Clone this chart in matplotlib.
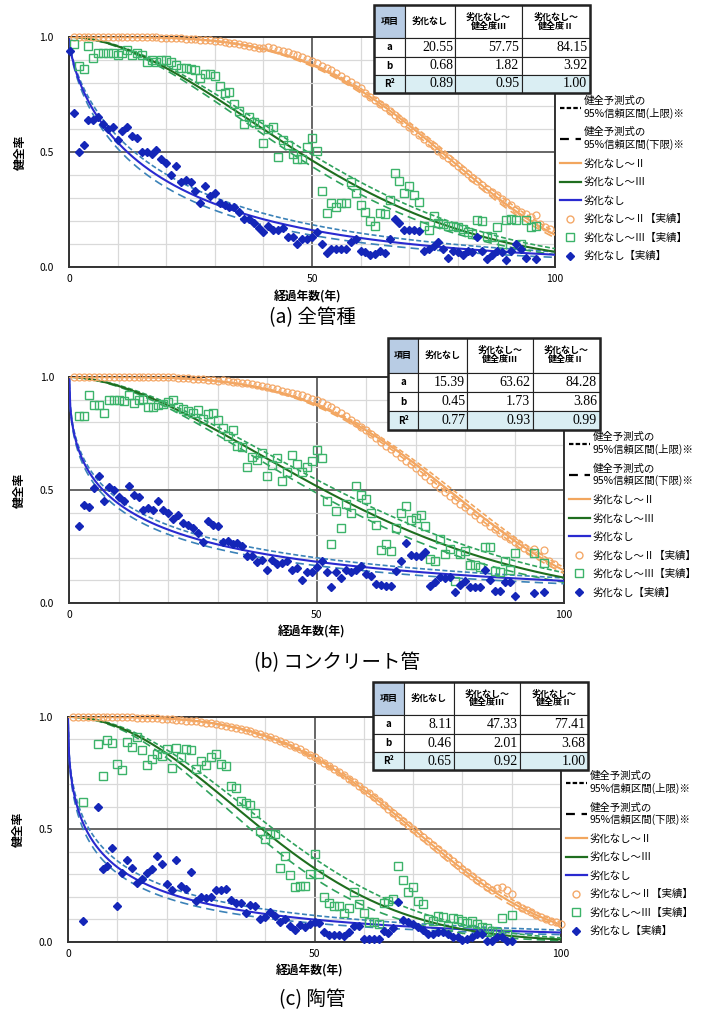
import numpy as np
import matplotlib
matplotlib.use("Agg")
import matplotlib.pyplot as plt
from matplotlib.lines import Line2D
from matplotlib.patches import Rectangle
from matplotlib.table import Table

plt.rcParams['font.family'] = ['Noto Sans CJK JP', 'DejaVu Sans']

# --- table parameters (columns: 劣化なし, 劣化なし～健全度Ⅲ, 劣化なし～健全度Ⅱ) ---
captions = ["(a) 全管種", "(b) コンクリート管", "(c) 陶管"]
param_a = [[20.55, 57.75, 84.15], [15.39, 63.62, 84.28], [8.11, 47.33, 77.41]]
param_b = [[0.68, 1.82, 3.92], [0.45, 1.73, 3.86], [0.46, 2.01, 3.68]]
param_r2 = [[0.89, 0.95, 1.00], [0.77, 0.93, 0.99], [0.65, 0.92, 1.00]]
# 95% confidence band, as a factor on the scale parameter a
band_hi = [[1.12, 1.04, 1.012], [1.13, 1.05, 1.012], [1.18, 1.06, 1.012]]
band_lo = [[0.89, 0.96, 0.988], [0.88, 0.95, 0.988], [0.85, 0.94, 0.988]]

header = ["項目", "劣化なし", "劣化なし～\n健全度Ⅲ", "劣化なし～\n健全度Ⅱ"]
row_names = ["a", "b", "R²"]

legend_labels = ["健全予測式の\n95%信頼区間(上限)※", "健全予測式の\n95%信頼区間(下限)※",
                 "劣化なし～Ⅱ", "劣化なし～Ⅲ", "劣化なし",
                 "劣化なし～Ⅱ【実績】", "劣化なし～Ⅲ【実績】", "劣化なし【実績】"]

# --- (a) 全管種 observed ---
blue_a_year = [0.3] + list(range(1, 95)) + [96]
blue_a_val = [0.94,
              0.67, 0.50, 0.53, 0.64, 0.64, 0.65, 0.62, 0.60, 0.61, 0.55,
              0.59, 0.61, 0.57, 0.56, 0.50, 0.50, 0.49, 0.51, 0.47, 0.45,
              0.40, 0.44, 0.37, 0.38, 0.37, 0.33, 0.28, 0.35, 0.31, 0.32,
              0.28, 0.27, 0.26, 0.26, 0.24, 0.21, 0.21, 0.19, 0.17, 0.15,
              0.18, 0.16, 0.16, 0.17, 0.13, 0.13, 0.10, 0.12, 0.12, 0.13,
              0.15, 0.10, 0.06, 0.08, 0.08, 0.08, 0.08, 0.11, 0.12, 0.07,
              0.065, 0.05, 0.055, 0.07, 0.06, 0.12, 0.21, 0.19, 0.16, 0.16,
              0.16, 0.155, 0.07, 0.08, 0.09, 0.11, 0.08, 0.04, 0.07, 0.065,
              0.05, 0.07, 0.065, 0.13, 0.07, 0.035, 0.05, 0.07, 0.065, 0.03,
              0.07, 0.10, 0.08, 0.04,
              0.035]
green_a_year = list(range(1, 97))
green_a_val = [0.97, 0.875, 0.86, 0.96, 0.91, 0.93, 0.93, 0.93, 0.93, 0.92,
               0.93, 0.945, 0.92, 0.93, 0.92, 0.89, 0.90, 0.89, 0.90, 0.90,
               0.89, 0.88, 0.865, 0.865, 0.86, 0.855, 0.82, 0.84, 0.84, 0.83,
               0.785, 0.755, 0.76, 0.71, 0.68, 0.62, 0.65, 0.63, 0.62, 0.54,
               0.60, 0.61, 0.48, 0.55, 0.53, 0.49, 0.47, 0.47, 0.52, 0.56,
               0.505, 0.33, 0.235, 0.28, 0.26, 0.28, 0.28, 0.37, 0.32, 0.27,
               0.24, 0.20, 0.18, 0.235, 0.23, 0.29, 0.41, 0.375, 0.32, 0.35,
               0.315, 0.283, 0.18, 0.16, 0.22, 0.19, 0.185, 0.18, 0.18, 0.175,
               0.165, 0.15, 0.145, 0.205, 0.20, 0.135, 0.13, 0.175, 0.10, 0.205,
               0.21, 0.205, 0.10, 0.205, 0.175, 0.18]
orange_a_year = list(range(1, 100))
orange_a_val = [1.0, 1.0, 1.0, 1.0, 1.0, 1.0, 1.0, 1.0, 1.0, 1.0,
                1.0, 1.0, 1.0, 0.999, 0.999, 0.999, 0.998, 0.998, 0.997, 0.997,
                0.996, 0.995, 0.994, 0.993, 0.992, 0.99, 0.989, 0.987, 0.985, 0.983,
                0.981, 0.978, 0.975, 0.972, 0.969, 0.966, 0.962, 0.958, 0.954, 0.95,
                0.955, 0.95, 0.945, 0.94, 0.933, 0.927, 0.92, 0.912, 0.904, 0.895,
                0.886, 0.876, 0.866, 0.855, 0.843, 0.831, 0.819, 0.806, 0.793, 0.78,
                0.756, 0.741, 0.726, 0.71, 0.694, 0.678, 0.661, 0.644, 0.627, 0.61,
                0.593, 0.576, 0.558, 0.541, 0.524, 0.506, 0.489, 0.472, 0.455, 0.438,
                0.421, 0.405, 0.388, 0.372, 0.356, 0.341, 0.326, 0.311, 0.296, 0.282,
                0.268, 0.254, 0.241, 0.229, 0.216, 0.225, 0.185, 0.175, 0.165]

# --- (b) コンクリート管 observed ---
blue_b_year = list(range(2, 91)) + [94, 96]
blue_b_val = [0.34, 0.434, 0.424, 0.51, 0.56, 0.45, 0.513, 0.50, 0.47,
              0.45, 0.52, 0.48, 0.47, 0.41, 0.42, 0.41, 0.45, 0.41, 0.40,
              0.37, 0.39, 0.353, 0.347, 0.33, 0.31, 0.27, 0.365, 0.347, 0.34,
              0.27, 0.276, 0.26, 0.267, 0.254, 0.207, 0.207, 0.18, 0.19, 0.148,
              0.19, 0.173, 0.177, 0.185, 0.148, 0.155, 0.10, 0.136, 0.139, 0.158,
              0.188, 0.139, 0.072, 0.136, 0.11, 0.148, 0.136, 0.148, 0.165, 0.128,
              0.118, 0.084, 0.08, 0.077, 0.077, 0.143, 0.185, 0.264, 0.214, 0.21,
              0.207, 0.224, 0.077, 0.092, 0.114, 0.11, 0.114, 0.047, 0.08, 0.096,
              0.07, 0.07, 0.07, 0.148, 0.10, 0.055, 0.052, 0.095, 0.095, 0.032,
              0.043, 0.047]
green_b_year = list(range(2, 91)) + [94, 96]
green_b_val = [0.826, 0.826, 0.92, 0.877, 0.877, 0.84, 0.90, 0.90, 0.90,
               0.892, 0.92, 0.885, 0.90, 0.904, 0.867, 0.867, 0.877, 0.882, 0.889,
               0.90, 0.867, 0.86, 0.85, 0.842, 0.852, 0.815, 0.837, 0.84, 0.81,
               0.775, 0.74, 0.767, 0.697, 0.69, 0.60, 0.648, 0.634, 0.663, 0.56,
               0.61, 0.642, 0.538, 0.58, 0.657, 0.613, 0.58, 0.60, 0.63, 0.675,
               0.642, 0.45, 0.26, 0.406, 0.332, 0.44, 0.40, 0.52, 0.48, 0.459,
               0.397, 0.347, 0.236, 0.26, 0.232, 0.332, 0.397, 0.428, 0.368, 0.375,
               0.39, 0.343, 0.195, 0.185, 0.284, 0.217, 0.24, 0.096, 0.217, 0.232,
               0.168, 0.168, 0.158, 0.247, 0.25, 0.143, 0.136, 0.188, 0.146, 0.22,
               0.22, 0.176]
orange_b_year = list(range(1, 99))
orange_b_val = [1.0, 1.0, 1.0, 1.0, 1.0, 1.0, 1.0, 1.0, 1.0, 1.0,
                1.0, 1.0, 1.0, 1.0, 0.999, 0.999, 0.999, 0.999, 0.999, 0.999,
                0.998, 0.997, 0.996, 0.995, 0.993, 0.991, 0.99, 0.988, 0.986, 0.984,
                0.985, 0.983, 0.98, 0.978, 0.975, 0.972, 0.968, 0.964, 0.96, 0.955,
                0.95, 0.945, 0.94, 0.935, 0.93, 0.925, 0.92, 0.912, 0.905, 0.897,
                0.888, 0.878, 0.866, 0.853, 0.84, 0.826, 0.812, 0.797, 0.78, 0.764,
                0.748, 0.731, 0.714, 0.697, 0.68, 0.663, 0.646, 0.63, 0.614, 0.598,
                0.58, 0.562, 0.545, 0.528, 0.51, 0.493, 0.475, 0.458, 0.44, 0.424,
                0.407, 0.39, 0.373, 0.357, 0.342, 0.326, 0.311, 0.297, 0.283, 0.27,
                0.256, 0.243, 0.232, 0.238, 0.208, 0.235, 0.185, 0.173]

# --- (c) 陶管 observed ---
blue_c_year = [3] + list(range(6, 91))
blue_c_val = [0.092,
              0.60, 0.326, 0.336, 0.416, 0.158,
              0.306, 0.364, 0.328, 0.262, 0.28, 0.305, 0.324, 0.38, 0.346, 0.257,
              0.232, 0.365, 0.247, 0.235, 0.312, 0.183, 0.20, 0.195, 0.198, 0.232,
              0.232, 0.235, 0.188, 0.173, 0.173, 0.127, 0.166, 0.158, 0.102, 0.11,
              0.132, 0.117, 0.087, 0.102, 0.07, 0.053, 0.075, 0.065, 0.08, 0.087,
              0.083, 0.043, 0.033, 0.033, 0.033, 0.028, 0.046, 0.072, 0.072, 0.013,
              0.013, 0.013, 0.013, 0.05, 0.038, 0.06, 0.176, 0.098, 0.087, 0.08,
              0.068, 0.053, 0.036, 0.036, 0.043, 0.043, 0.036, 0.021, 0.021, 0.009,
              0.013, 0.021, 0.036, 0.036, 0.006, 0.003, 0.021, 0.021, 0.003, 0.003]
green_c_year = [3] + list(range(6, 91))
green_c_val = [0.623,
               0.88, 0.737, 0.896, 0.886, 0.793,
               0.763, 0.889, 0.867, 0.911, 0.855, 0.786, 0.812, 0.834, 0.827, 0.857,
               0.772, 0.864, 0.82, 0.857, 0.854, 0.768, 0.805, 0.786, 0.82, 0.837,
               0.79, 0.783, 0.694, 0.686, 0.627, 0.617, 0.61, 0.571, 0.494, 0.457,
               0.479, 0.479, 0.328, 0.383, 0.297, 0.243, 0.25, 0.25, 0.30, 0.393,
               0.30, 0.198, 0.173, 0.158, 0.158, 0.129, 0.149, 0.223, 0.169, 0.129,
               0.087, 0.087, 0.08, 0.173, 0.183, 0.19, 0.339, 0.275, 0.223, 0.246,
               0.183, 0.169, 0.102, 0.095, 0.114, 0.109, 0.072, 0.105, 0.102, 0.092,
               0.084, 0.095, 0.08, 0.068, 0.062, 0.05, 0.046, 0.107, 0.036, 0.12]
orange_c_year = list(range(1, 101))
orange_c_val = [1.0, 1.0, 1.0, 1.0, 1.0, 1.0, 1.0, 1.0, 1.0, 1.0,
                0.999, 0.998, 0.998, 0.997, 0.997, 0.996, 0.995, 0.994, 0.993, 0.992,
                0.99, 0.988, 0.986, 0.984, 0.982, 0.98, 0.978, 0.975, 0.972, 0.97,
                0.966, 0.962, 0.957, 0.952, 0.947, 0.941, 0.936, 0.93, 0.923, 0.916,
                0.91, 0.902, 0.894, 0.885, 0.875, 0.866, 0.856, 0.845, 0.833, 0.822,
                0.81, 0.797, 0.783, 0.77, 0.755, 0.74, 0.725, 0.71, 0.693, 0.676,
                0.66, 0.643, 0.625, 0.608, 0.59, 0.572, 0.555, 0.537, 0.52, 0.502,
                0.485, 0.467, 0.448, 0.43, 0.412, 0.395, 0.377, 0.36, 0.342, 0.325,
                0.31, 0.293, 0.277, 0.26, 0.245, 0.232, 0.24, 0.245, 0.232, 0.215,
                0.163, 0.152, 0.141, 0.131, 0.121, 0.112, 0.103, 0.095, 0.087, 0.08]

blue_years = [blue_a_year, blue_b_year, blue_c_year]
blue_vals = [blue_a_val, blue_b_val, blue_c_val]
green_years = [green_a_year, green_b_year, green_c_year]
green_vals = [green_a_val, green_b_val, green_c_val]
orange_years = [orange_a_year, orange_b_year, orange_c_year]
orange_vals = [orange_a_val, orange_b_val, orange_c_val]

# colours: blue, green, orange
line_colors = ['#2a2ad0', '#1f6e1f', '#f2a65e']
band_colors = ['#3b82b8', '#2fa25c', '#f2a65e']
blue_pt, green_pt, orange_pt = '#1426b8', '#3cb36a', '#f4a868'

# layout (figure fractions)
axes_pos = [[0.0983, 0.7380, 0.6923, 0.2257],
            [0.0987, 0.4082, 0.7047, 0.2218],
            [0.0969, 0.0756, 0.7023, 0.2208]]
table_box = [[0.628, 0.757, 0.444, 0.382],
             [0.644, 0.765, 0.428, 0.408],
             [0.619, 0.764, 0.436, 0.392]]
caption_xy = [(0.445, 0.688), (0.48, 0.350), (0.445, 0.019)]
col_w = [31, 50, 67, 68]
row_h = [33, 19, 18, 18]

fig = plt.figure(figsize=(7.02, 10.19), dpi=100)
t = np.linspace(0, 100, 501)

for i in range(3):
    ax = fig.add_axes(axes_pos[i])

    for j in range(3):
        a, b = param_a[i][j], param_b[i][j]
        ax.plot(t, np.exp(-(t / (a * band_hi[i][j])) ** b), color=band_colors[j],
                lw=1.2, ls=(0, (3, 1.5)), zorder=3)
        ax.plot(t, np.exp(-(t / (a * band_lo[i][j])) ** b), color=band_colors[j],
                lw=1.2, ls=(0, (5, 3)), zorder=3)
        ax.plot(t, np.exp(-(t / a) ** b), color=line_colors[j], lw=1.5, zorder=4)

    ax.plot(orange_years[i], orange_vals[i], 'o', ms=5, mfc='none', mec=orange_pt,
            mew=0.9, zorder=5, clip_on=False)
    ax.plot(green_years[i], green_vals[i], 's', ms=6, mfc='none', mec=green_pt,
            mew=1.0, zorder=5, clip_on=False)
    ax.plot(blue_years[i], blue_vals[i], 'D', ms=3.6, color=blue_pt, zorder=6,
            clip_on=False)

    ax.set_xlim(0, 100)
    ax.set_ylim(0, 1)
    ax.set_xticks([0, 50, 100])
    ax.set_xticklabels(['0', '50', '100'])
    ax.set_yticks([0, 0.5, 1.0])
    ax.set_yticklabels(['0.0', '0.5', '1.0'])
    ax.set_xticks(np.arange(10, 100, 10), minor=True)
    ax.set_yticks(np.arange(0.1, 1.0, 0.1), minor=True)
    ax.grid(which='minor', color='#d9d9d9', lw=0.9)
    ax.grid(which='major', color='#5a5a5a', lw=1.3)
    ax.set_axisbelow(True)
    ax.tick_params(which='both', length=0, labelsize=7.5)
    ax.tick_params(axis='y', pad=11)
    ax.tick_params(axis='x', pad=5)
    for s in ax.spines.values():
        s.set_color('#333333')
        s.set_linewidth(1.4)

    ax.text(0.49, -0.13, "経過年数(年)", transform=ax.transAxes, ha='center',
            va='center', fontsize=8.5, fontweight='bold')
    ax.text(-0.10, 0.5, "健全率", transform=ax.transAxes, ha='center',
            va='center', fontsize=8.5, fontweight='bold', rotation=90)

    # parameter table
    tb = Table(ax, bbox=table_box[i])
    body = [param_a[i], param_b[i], param_r2[i]]
    for c in range(4):
        cell = tb.add_cell(0, c, col_w[c], row_h[0], text=header[c], loc='center',
                           facecolor='#b8cce4' if c == 0 else 'white')
        cell.get_text().set_fontsize(6.5)
        cell.get_text().set_fontweight('bold')
        cell.get_text().set_linespacing(1.0)
    for r in range(3):
        fc = '#daeef3' if r == 2 else 'white'
        cell = tb.add_cell(r + 1, 0, col_w[0], row_h[r + 1], text=row_names[r],
                           loc='center', facecolor=fc)
        cell.get_text().set_fontsize(7)
        cell.get_text().set_fontweight('bold')
        for c in range(3):
            cell = tb.add_cell(r + 1, c + 1, col_w[c + 1], row_h[r + 1],
                               text=f"{body[r][c]:.2f}", loc='right', facecolor=fc)
            cell.PAD = 0.04
            cell.get_text().set_fontsize(10)
            cell.get_text().set_fontfamily('Liberation Serif')
    for cell in tb.get_celld().values():
        cell.set_linewidth(0.8)
        cell.set_edgecolor('#222222')
    tb.auto_set_font_size(False)
    tb.set_zorder(8)
    ax.add_table(tb)
    x0, y0, w, h = table_box[i]
    ax.add_patch(Rectangle((x0, y0), w, h, transform=ax.transAxes, fill=False,
                           lw=1.8, ec='#222222', clip_on=False, zorder=9))

    handles = [Line2D([], [], color='black', lw=1.6, ls=(0, (2, 1))),
               Line2D([], [], color='black', lw=1.6, ls=(0, (4, 3))),
               Line2D([], [], color=line_colors[2], lw=1.6),
               Line2D([], [], color=line_colors[1], lw=1.6),
               Line2D([], [], color=line_colors[0], lw=1.6),
               Line2D([], [], ls='none', marker='o', ms=5, mfc='none', mec=orange_pt),
               Line2D([], [], ls='none', marker='s', ms=6, mfc='none', mec=green_pt),
               Line2D([], [], ls='none', marker='D', ms=3.6, color=blue_pt)]
    ax.legend(handles, legend_labels, loc='lower left', bbox_to_anchor=(1.01, 0.025),
              frameon=False, fontsize=7.5, handlelength=2.0, handletextpad=0.3,
              labelspacing=0.8, borderaxespad=0, borderpad=0)

    fig.text(caption_xy[i][0], caption_xy[i][1], captions[i], ha='center',
             va='center', fontsize=14)

fig.savefig('out.png', dpi=100)
